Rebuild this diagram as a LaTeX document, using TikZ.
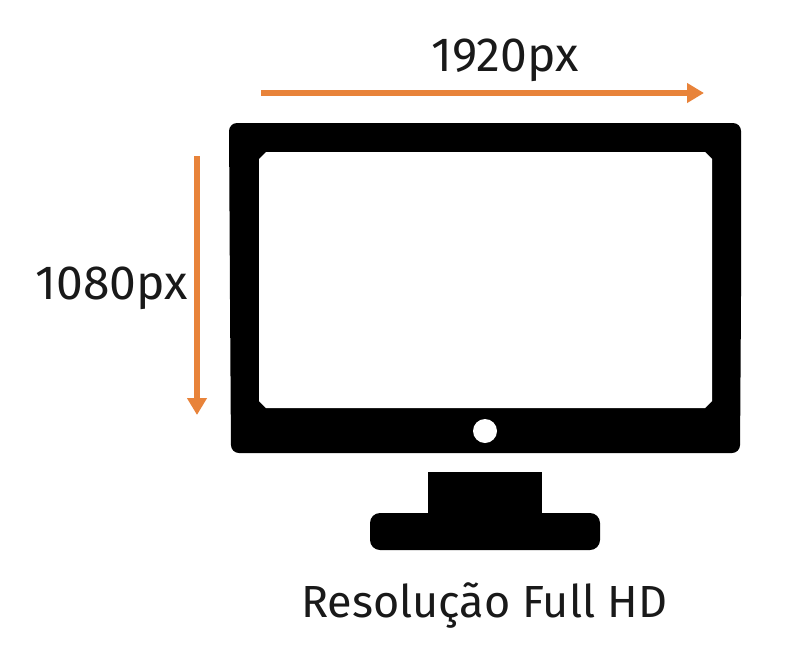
\documentclass[tikz,border=0pt]{standalone}
\usepackage{fontspec}
\setmainfont{Fira Sans}
\usepackage{tikz}
\usetikzlibrary{arrows.meta}
\definecolor{setaLaranja}{HTML}{E8833A}
\tikzset{
	seta/.style={-{Triangle[length=17pt,width=19pt]}, line width=5.5pt, setaLaranja},
	rotulo/.style={inner sep=0pt, font=\fontsize{48}{48}\selectfont, text=black!90},
	legenda/.style={inner sep=0pt, font=\fontsize{45}{45}\selectfont, text=black!90},
	corpo/.style={fill=black, draw=none},
}
\begin{document}
\begin{tikzpicture}[x=1pt, y=-1pt]
		\useasboundingbox (0,0) rectangle (796,651);

		% moldura do monitor
		\fill[corpo, rounded corners=8pt] (229,123) -- (741,123) -- (741,300) -- (740,453) -- (231,453) -- (230,300) -- cycle;
		\fill[white] (266,152) -- (705,152) -- (712,159) -- (712,401) -- (705,408) -- (266,408) -- (259,401) -- (259,159) -- cycle;
		\fill[white] (485,431) circle (12);

		% base
		\fill[corpo] (428,472) rectangle (542,520);
		\fill[corpo, rounded corners=10pt] (370,513) rectangle (600,550);

		\coordinate (larguraA) at (261,93);
		\coordinate (larguraB) at (704,93);
		\coordinate (alturaA) at (197,156);
		\coordinate (alturaB) at (197,415);
		\draw[seta] (larguraA) -- (larguraB);
		\draw[seta] (alturaA) -- (alturaB);

		\node[rotulo] (largura) at (505,60) {1920px};
		\node[rotulo] (altura) at (112,288) {1080px};
		\node[legenda] (resolucao) at (484,606) {Resolução Full HD};
	\end{tikzpicture}
\end{document}
